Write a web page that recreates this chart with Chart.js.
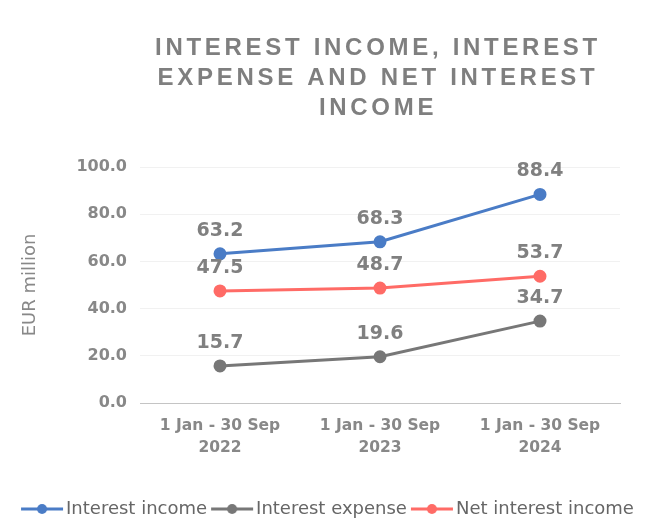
<!DOCTYPE html>
<html>
<head>
<meta charset="utf-8">
<script src="https://cdn.jsdelivr.net/npm/chart.js@4.4.1/dist/chart.umd.min.js"></script>
<style>
  body { margin: 0; background: #fff; }
  #wrap { width: 645px; height: 518px; }
</style>
</head>
<body>
<div id="wrap"><canvas id="rateStats"></canvas></div>
<script>
const labels = [['1 Jan - 30 Sep', '2022'], ['1 Jan - 30 Sep', '2023'], ['1 Jan - 30 Sep', '2024']];
const interestIncome = [63.2, 68.3, 88.4];
const interestExpense = [15.7, 19.6, 34.7];
const netInterest = [47.5, 48.7, 53.7];
const yTicks = [0, 20, 40, 60, 80, 100];
const titleLines = ['INTEREST INCOME, INTEREST', 'EXPENSE AND NET INTEREST', 'INCOME'];

const blue = '#4a7cc6';
const grey = '#777777';
const red = '#ff6b66';

// little line + dot picture for the legend
function legendIcon(color) {
  const c = document.createElement('canvas');
  c.width = 44; c.height = 14;
  const g = c.getContext('2d');
  g.strokeStyle = color;
  g.lineWidth = 3;
  g.beginPath(); g.moveTo(1, 7); g.lineTo(43, 7); g.stroke();
  g.fillStyle = color;
  g.beginPath(); g.arc(22, 7, 5, 0, Math.PI * 2); g.fill();
  return c;
}

const valueLabels = {
  id: 'valueLabels',
  afterDatasetsDraw(chart) {
    const ctx = chart.ctx;
    ctx.save();
    ctx.font = 'bold 19px "DejaVu Sans"';
    ctx.fillStyle = '#808080';
    ctx.textAlign = 'center';
    ctx.textBaseline = 'middle';
    chart.data.datasets.forEach((ds, i) => {
      chart.getDatasetMeta(i).data.forEach((pt, j) => {
        ctx.fillText(ds.data[j].toFixed(1), pt.x, pt.y - 23);
      });
    });
    ctx.restore();
  }
};

const bigTitle = {
  id: 'bigTitle',
  afterDraw(chart) {
    const ctx = chart.ctx;
    const a = chart.chartArea;
    ctx.save();
    ctx.font = 'bold 24px "Liberation Sans"';
    ctx.letterSpacing = '3.7px';
    ctx.fillStyle = '#7f7f7f';
    ctx.textAlign = 'center';
    ctx.textBaseline = 'middle';
    titleLines.forEach((t, i) => {
      ctx.fillText(t, (a.left + a.right) / 2 - 2, 48 + i * 30);
    });
    ctx.restore();
  }
};

function makeSet(label, data, color) {
  return {
    label: label,
    data: data,
    borderColor: color,
    backgroundColor: color,
    borderWidth: 3,
    pointRadius: 5,
    pointHoverRadius: 5,
    pointStyle: 'circle',
    legendIcon: legendIcon(color),
    tension: 0
  };
}

const ctx = document.getElementById('rateStats');

new Chart(ctx, {
  type: 'line',
  data: {
    labels: labels,
    datasets: [
      makeSet('Interest income', interestIncome, blue),
      makeSet('Interest expense', interestExpense, grey),
      makeSet('Net interest income', netInterest, red)
    ]
  },
  options: {
    responsive: true,
    maintainAspectRatio: false,
    animation: false,
    layout: { padding: { top: 167, left: 16, right: 0, bottom: -10 } },
    plugins: {
      title: { display: false },
      tooltip: { enabled: false },
      legend: {
        position: 'bottom',
        labels: {
          usePointStyle: true,
          pointStyleWidth: 30,
          padding: 10,
          color: '#666666',
          font: { family: '"DejaVu Sans"', size: 18 },
          generateLabels(chart) {
            return chart.data.datasets.map((ds, i) => ({
              text: ds.label,
              pointStyle: ds.legendIcon,
              fillStyle: ds.borderColor,
              strokeStyle: ds.borderColor,
              lineWidth: 0,
              fontColor: '#666666',
              hidden: false,
              datasetIndex: i
            }));
          }
        }
      }
    },
    scales: {
      x: {
        offset: true,
        grid: { display: false },
        border: { display: true, color: '#c4c4c4', width: 1 },
        ticks: {
          color: '#888888',
          padding: 4,
          maxRotation: 0,
          font: { family: '"DejaVu Sans"', size: 15.5, weight: 'bold', lineHeight: 1.4 }
        },
        afterFit(s) { s.height = 87; }
      },
      y: {
        min: 0,
        max: 100,
        afterBuildTicks(s) { s.ticks = yTicks.map(v => ({ value: v })); },
        grid: { color: '#f1f1f1', drawTicks: false },
        border: { display: false },
        ticks: {
          color: '#888888',
          padding: 13,
          font: { family: '"DejaVu Sans"', size: 16, weight: 'bold' },
          callback: v => v.toFixed(1)
        },
        title: {
          display: true,
          text: 'EUR million',
          color: '#888888',
          padding: { top: 4, bottom: 0 },
          font: { family: '"DejaVu Sans"', size: 18 }
        },
        afterFit(s) { s.width = 124; }
      },
      yRight: {
        position: 'right',
        display: true,
        grid: { display: false },
        border: { display: false },
        ticks: { display: false },
        afterFit(s) { s.width = 25; }
      }
    }
  },
  plugins: [valueLabels, bigTitle]
});
</script>
</body>
</html>
